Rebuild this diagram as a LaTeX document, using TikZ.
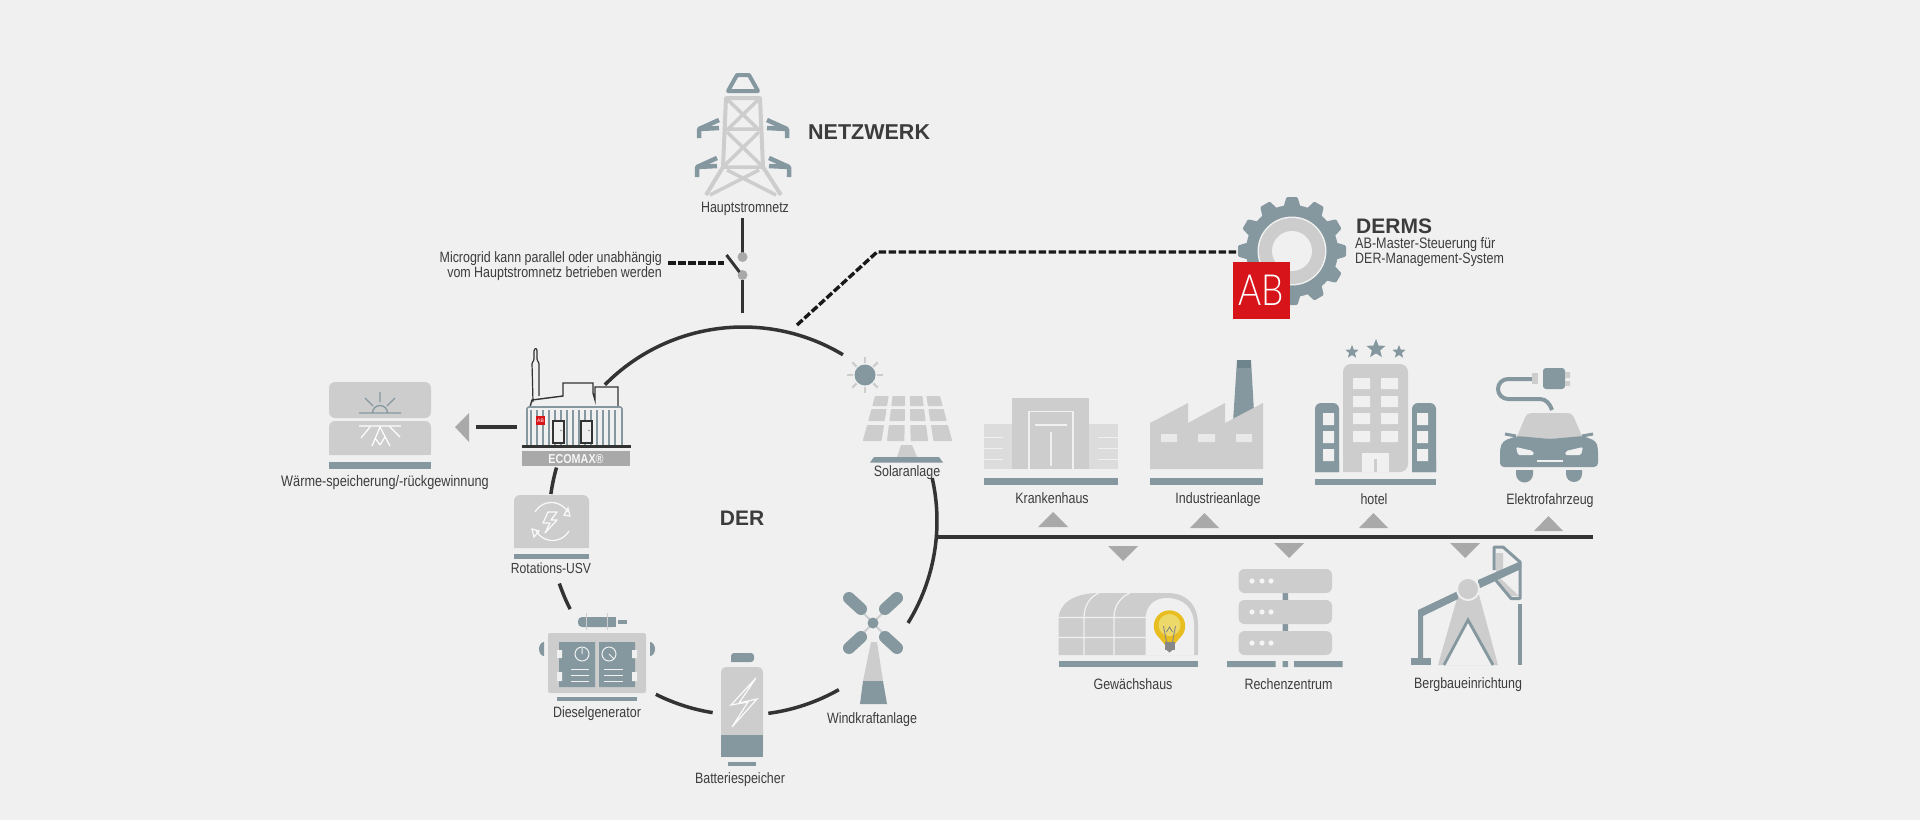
\documentclass[tikz,border=0pt]{standalone}
\usepackage{fontspec}
\usepackage{graphicx}
\usetikzlibrary{calc,shapes.geometric}
\newfontfamily\arialf{Liberation Sans}
\newfontfamily\narrowf[FakeStretch=0.83]{Liberation Sans}
\newfontfamily\thinf{Lato Light}
\definecolor{bgc}{HTML}{F0F0F0}
\definecolor{gr}{HTML}{CDCDCD}
\definecolor{grl}{HTML}{DCDCDC}
\definecolor{tl}{HTML}{85989F}
\definecolor{tld}{HTML}{6F858D}
\definecolor{dk}{HTML}{333333}
\definecolor{ar}{HTML}{A9A9A9}
\definecolor{txt}{HTML}{3C3C3C}
\definecolor{abred}{HTML}{D7141A}
\definecolor{bulba}{HTML}{E8BD1F}
\definecolor{bulbb}{HTML}{EDD96A}
\definecolor{win}{HTML}{E9E9E9}
\tikzset{
 lab/.style={font=\narrowf\fontsize{15}{15}\selectfont,text=txt,inner sep=0pt,align=center},
 head/.style={font=\arialf\bfseries\fontsize{21}{21}\selectfont,text=txt,inner sep=0pt},
 wire/.style={draw=dk,line width=3.5pt},
 dashwire/.style={draw=black!90,line width=3.4pt,dash pattern=on 7.5pt off 2.5pt},
 tri/.style={fill=ar},
 bar/.style={fill=tl},
 wl/.style={draw=bgc,line width=1.5pt},
 twr/.style={draw=gr,line width=4pt,line join=round},
 arm/.style={draw=tl,line width=4.5pt,line join=round},
 whiteln/.style={draw=white!90!gr,line width=1.2pt},
}
\begin{document}
\begin{tikzpicture}[x=1pt,y=1pt,yscale=-1]
\useasboundingbox (0,0) rectangle (1920,820);
\fill[bgc] (0,0) rectangle (1920,820);

% ---------- ring and feeders
\coordinate (c) at (743,521);
\newcommand\ringseg[3]{%
 \coordinate (#1) at ($(c)+(#2:194)$);
 \draw[wire] (#1) arc[start angle=#2,end angle=#3,radius=194];}
\ringseg{ra}{-135.4}{-59}
\ringseg{rb}{-12.8}{31.7}
\ringseg{rc}{-164}{-172}
\ringseg{rd}{-198.8}{-207}
\ringseg{re}{-243.3}{-261}
\ringseg{rf}{-277.5}{-299.6}
\coordinate (busa) at (937,537);
\coordinate (busb) at (1593,537);
\draw[draw=dk,line width=4pt] (busa) -- (busb);

% ---------- tower
\draw[arm,line width=4pt] (728,91)--(737,75)--(749,75)--(758,91)--cycle;
\draw[twr] (706,195)--(723,167)--(726,98)--(760,98)--(763,167)--(781,195);
\draw[twr,line width=3.5pt] (724,129)--(762,129) (723,167)--(763,167) (728,100)--(758,129) (758,100)--(728,129)
 (725,165)--(759,132) (761,165)--(727,132) (710,195)--(759,170) (776,195)--(727,170);
\foreach \s in {0,1}{
 \begin{scope}[shift={(743*2*\s,0)},xscale={1-2*\s}]
  \draw[arm] (719,120)--(699,129)--(719,128) (699,129)--(699,138);
  \draw[arm] (717,158)--(697,167)--(717,166) (697,167)--(697,177);
 \end{scope}}
\node[lab] (haupt) at (745,208.5) {Hauptstromnetz};
\node[head,font=\arialf\bfseries\fontsize{21.5}{21.5}\selectfont,anchor=west] (netz) at (808,132) {NETZWERK};

% ---------- switch
\coordinate (sa) at (742.5,218); \coordinate (sb) at (742.5,253);
\coordinate (sc) at (742.5,280); \coordinate (sd) at (742.5,313);
\draw[wire] (sa)--(sb) (sc)--(sd);
\fill[ar] (742.5,257) circle[radius=5] (742.5,275) circle[radius=5];
\coordinate (ba) at (726.5,255); \coordinate (bb) at (739.5,272);
\draw[wire,line width=3pt] (ba)--(bb);
\coordinate (da) at (668,263); \coordinate (db) at (723.5,263);
\draw[dashwire] (da)--(db);
\node[lab,align=right,anchor=east] (micro) at (662,266.5) {\baselineskip=14pt Microgrid kann parallel oder unabhängig\\vom Hauptstromnetz betrieben werden};

% ---------- DERMS
\coordinate (dga) at (797,325); \coordinate (dgb) at (877,252); \coordinate (dgc) at (1236,252);
\draw[dashwire] (dga)--(dgb)--(dgc);
\coordinate (gear) at (1292,251);
\foreach \a in {0,30,...,330}{
 \fill[tl,rounded corners=1.2pt,shift={(gear)},rotate=\a] (44,-8.5)--(54,-5.5)--(54,5.5)--(44,8.5)--cycle;}
\fill[tl] (gear) circle[radius=46];
\fill[bgc] (gear) circle[radius=34.5];
\fill[gr] (gear) circle[radius=33];
\fill[bgc] (gear) circle[radius=20];
\fill[abred] (1233,262) rectangle (1290,319);
\node[inner sep=0pt,text=white] (ablogo) at (1261,290) {\scalebox{.82}[1]{\fontsize{43}{43}\selectfont\thinf AB}};
\node[head,anchor=west] (derms) at (1356,226) {DERMS};
\node[lab,align=left,anchor=west] (dermst) at (1355,252.5) {\fontsize{15.2}{13}\selectfont AB-Master-Steuerung für\\DER-Management-System};
\node[head] (der) at (742,518) {DER};

% ---------- heat store
\fill[gr,rounded corners=6pt] (329,382) rectangle (431,418);
\fill[gr,rounded corners=6pt] (329,455)--(329,421)--(431,421)--(431,455)[sharp corners]--cycle;
\fill[gr] (329,445) rectangle (431,455);
\fill[bar] (329,462) rectangle (431,469);
\draw[tl,line width=1.3pt] (359,413)--(401,413) (372.5,413) arc[start angle=180,end angle=360,radius=7.5];
\draw[tl,line width=1.3pt] (380,402)--(380,392) (373,406)--(365,398) (387,406)--(395,398);
\draw[white,line width=1.2pt] (359,426)--(401,426) (370,427)--(361,438) (390,427)--(400,437)
 (380,427)--(372,446) (380,427)--(390,446) (375,438)--(380,445) (385,437)--(380,445);
\node[lab,font=\narrowf\fontsize{15.3}{15.3}\selectfont] (heat) at (385,483) {Wärme-speicherung/-rückgewinnung};
\fill[tri] (455,427)--(469,413)--(469,442)--cycle;
\coordinate (ha) at (476,427); \coordinate (hb) at (517,427);
\draw[wire] (ha)--(hb);

% ---------- ECOMAX
\draw[dk,line width=1.2pt,rounded corners=1pt,line join=round] (533,402)--(532,363)--(534,360)--(534,350)--(536,348)--(537,350)--(537,360)--(539,363)--(539,396);
\draw[dk,line width=1.4pt] (530,407)--(532,400)--(563,396)--(563,383)--(593,383)--(593,393)--(595,400)--(595,387)--(618,387)--(618,407);
\fill[bgc] (527,407) rectangle (622,445);
\foreach \x in {531,537,...,620}{\draw[tl,line width=1.2pt] (\x,410)--(\x,445);}
\draw[tl,line width=1.6pt,rounded corners=2pt] (527,445)--(527,407)--(622,407)--(622,445);
\foreach \x in {553,581}{\draw[dk,fill=bgc,line width=1.2pt] (\x,421) rectangle +(11,22);
 \draw[tl,line width=.8pt] (\x+7,430)--(\x+9,431);}
\fill[abred] (536,416) rectangle (545,425);
\node[inner sep=0pt,text=white,font=\arialf\fontsize{5}{5}\selectfont] (ablogob) at (540.5,420.5) {AB};
\draw[dk,line width=3pt] (522,446)--(631,446);
\fill[ar] (522,451) rectangle (630,466);
\node[inner sep=0pt,text=white!90!ar,font=\narrowf\bfseries\fontsize{13}{13}\selectfont] (ecomax) at (576,459) {ECOMAX®};

% ---------- USV
\fill[gr,rounded corners=6pt] (514,548)--(514,495)--(589,495)--(589,548)[sharp corners]--cycle;
\fill[gr] (514,538) rectangle (589,548);
\fill[bar] (514,554) rectangle (589,559);
\draw[whiteln] (535,512) arc[start angle=-150,end angle=-30,radius=19];
\draw[whiteln] (569,531) arc[start angle=30,end angle=150,radius=19];
\draw[whiteln] (568,508)--(570,516)--(564,515)--cycle (534,537)--(532,529)--(539,531)--cycle;
\draw[whiteln,line join=round] (548,512)--(543,523)--(550,523)--(545,533)--(557,520)--(551,520)--(557,512)--cycle;
\node[lab,font=\narrowf\fontsize{14.6}{14.6}\selectfont] (usv) at (551,568) {Rotations-USV};

% ---------- diesel
\fill[tl,rounded corners=4pt] (578,617) rectangle (616,627);
\fill[tl] (608,617) rectangle (616,627);
\fill[tl] (618,620) rectangle (627,624);
\draw[gr,line width=1pt] (586,613)--(586,630) (607,613)--(607,630);
\fill[gr,rounded corners=2pt] (548,633) rectangle (646,693);
\fill[tl] (559,642) rectangle (595,687) (599,642) rectangle (635,687);
\fill[tl] (544,642) arc[start angle=-90,end angle=-270,x radius=5,y radius=7] -- cycle;
\fill[tl] (650,642) arc[start angle=-90,end angle=90,x radius=5,y radius=7] -- cycle;
\fill[bgc] (557,650) rectangle (562,658) (557,672) rectangle (562,681) (632,650) rectangle (637,658) (632,672) rectangle (637,681);
\draw[bgc,line width=1pt] (582,654) circle[radius=7] (582,654)--(582,648) (609,654) circle[radius=7] (609,654)--(614,659);
\draw[bgc,line width=1pt] (571,669)--(589,669) (571,675)--(589,675) (571,681)--(589,681) (604,669)--(623,669) (604,675)--(623,675) (604,681)--(623,681);
\fill[bar] (557,697) rectangle (637,701);
\node[lab] (diesel) at (597,713.5) {Dieselgenerator};

% ---------- battery
\fill[tl,rounded corners=3pt] (731,662)--(731,653)--(754,653)--(754,662)[sharp corners]--cycle;
\fill[gr,rounded corners=5pt] (721,757)--(721,667)--(763,667)--(763,757)[sharp corners]--cycle;
\fill[tl] (721,735) rectangle (763,757);
\fill[bar] (728,762) rectangle (756,766);
\draw[whiteln,line join=miter] (756,678)--(731,705)--(748,702)--(732,727)--(757,699)--(739,703)--cycle;
\node[lab] (batt) at (740,779.5) {Batteriespeicher};

% ---------- wind
\draw[gr,line width=2pt] (849,598)--(897,648) (897,598)--(849,648);
\draw[tl,line width=12pt,line cap=round] (849,598)--(861,609) (897,598)--(885,609) (849,648)--(861,637) (897,648)--(885,637);
\fill[tl] (873,623) circle[radius=5.5];
\fill[gr] (871,642)--(877,642)--(883,681)--(863,681)--cycle;
\fill[tl] (863,681)--(883,681)--(887,704)--(860,704)--cycle;
\node[lab] (wind) at (872,719.5) {Windkraftanlage};

% ---------- solar
\foreach \a in {0,45,...,315}{\draw[gr,line width=2.4pt,shift={(865,375)},rotate=\a] (12,0)--(18,0);}
\fill[tl] (865,375) circle[radius=10.5];
\foreach \ya/\yb in {396/406,409/421,425/441}{
 \foreach \ua/\ub in {-1/-.58,-.46/-.07,.07/.46,.58/1}{
  \fill[gr,rounded corners=.6pt] ({907.5+(\ua)*(32.5+.273*(\yb-396))},\yb)--({907.5+(\ub)*(32.5+.273*(\yb-396))},\yb)--({907.5+(\ub)*(32.5+.273*(\ya-396))},\ya)--({907.5+(\ua)*(32.5+.273*(\ya-396))},\ya)--cycle;}}
\fill[gr] (901,445)--(912,445)--(917,457)--(897,457)--cycle;
\fill[tl] (874,457)--(939,457)--(943,462.5)--(870,462.5)--cycle;
\node[lab] (solar) at (907,472.5) {Solaranlage};

% ---------- hospital
\fill[grl] (984,424) rectangle (1118,469);
\fill[gr] (1012,398) rectangle (1089,469);
\draw[bgc,line width=1.5pt] (1029,469)--(1029,411.5)--(1073,411.5)--(1073,469) (1035,425)--(1067,425) (1051,432)--(1051,466);
\draw[bgc,line width=1pt] (984,437)--(1003,437) (984,448)--(1003,448) (984,459)--(1003,459) (1098,437)--(1118,437) (1098,448)--(1118,448) (1098,459)--(1118,459);
\fill[bar] (984,478) rectangle (1118,485);
\node[lab] (kh) at (1052,498) {Krankenhaus};
\fill[tri] (1038,527)--(1053,512)--(1068,527)--cycle;

% ---------- factory
\fill[tl] (1237,360)--(1251,360)--(1254,412)--(1233,422)--cycle;
\fill[tld] (1237,360) rectangle (1251,368);
\fill[gr] (1150,469)--(1150,423)--(1188,403)--(1188,423)--(1225,403)--(1225,423)--(1263,403)--(1263,469)--cycle;
\fill[win] (1161,434) rectangle (1177,442) (1198,434) rectangle (1215,442) (1236,434) rectangle (1252,442);
\fill[bar] (1150,478) rectangle (1263,485);
\node[lab] (ind) at (1218,500) {Industrieanlage};
\fill[tri] (1190,528)--(1204.5,513)--(1219,528)--cycle;

% ---------- hotel
\node[star,star points=5,star point ratio=2.3,fill=tl,minimum size=14pt,inner sep=0pt] (st1) at (1352,352) {};
\node[star,star points=5,star point ratio=2.3,fill=tl,minimum size=20pt,inner sep=0pt] (st2) at (1376,349) {};
\node[star,star points=5,star point ratio=2.3,fill=tl,minimum size=14pt,inner sep=0pt] (st3) at (1399,352) {};
\fill[gr,rounded corners=8pt] (1343,472)--(1343,364)--(1408,364)--(1408,472)[sharp corners]--cycle;
\foreach \y/\yy in {378/389,396/407,413/424,431/442}{\fill[bgc] (1353,\y) rectangle (1370,\yy) (1381,\y) rectangle (1398,\yy);}
\fill[bgc] (1362,453) rectangle (1389,472);
\fill[gr] (1374,459) rectangle (1377,472);
\fill[tl,rounded corners=6pt] (1315,472)--(1315,403)--(1339,403)[sharp corners]--(1339,472)--cycle;
\fill[tl,rounded corners=6pt] (1436,472)--(1436,403)--(1412,403)[sharp corners]--(1412,472)--cycle;
\fill[tl] (1315,460) rectangle (1339,472) (1412,460) rectangle (1436,472);
\foreach \y/\yy in {413/425,431/443,449/461}{\fill[bgc] (1323,\y) rectangle (1334,\yy) (1417,\y) rectangle (1428,\yy);}
\fill[bar] (1315,479) rectangle (1436,485);
\node[lab] (hotel) at (1374,499.5) {hotel};
\fill[tri] (1359,528)--(1373.5,513)--(1388,528)--cycle;

% ---------- car
\draw[tl,line width=4pt] (1532,379)--(1508,379) arc[start angle=-90,end angle=-270,radius=10] -- (1540,399) .. controls (1546,399) and (1550,404) .. (1552,410);
\fill[gr] (1532,373) rectangle (1538,384);
\fill[tl,rounded corners=3pt] (1543,368)--(1565,368)--(1565,389)--(1543,389)--cycle;
\fill[gr] (1565,372) rectangle (1570,378) (1565,381) rectangle (1570,386);
\fill[gr,rounded corners=4pt] (1515,441)--(1527,413)--(1572,413)--(1584,441)--cycle;
\fill[tl,rounded corners=4pt] (1500,467)--(1500,448)--(1503,441)--(1517,436)--(1550,439)--(1583,436)--(1596,441)--(1598,448)--(1598,467)--cycle;
\draw[tl,line width=3pt] (1505,434)--(1516,436) (1593,434)--(1582,436);
\fill[tl] (1516,470) rectangle (1533,474) (1566,470) rectangle (1582,474);
\fill[tl] (1533,474) arc[start angle=0,end angle=180,radius=8.5] -- cycle;
\fill[tl] (1582,474) arc[start angle=0,end angle=180,radius=8] -- cycle;
\fill[bgc,rounded corners=1.5pt] (1516,447)--(1533,451)--(1534,455)--(1518,455)--cycle;
\fill[bgc,rounded corners=1.5pt] (1583,447)--(1566,451)--(1565,455)--(1581,455)--cycle;
\draw[bgc,line width=1.2pt] (1537,461)--(1563,461);
\node[lab] (ev) at (1550,500.5) {Elektrofahrzeug};
\fill[tri] (1534,531)--(1548.5,516)--(1563,531)--cycle;

% ---------- greenhouse
\fill[tri] (1108,546)--(1138,546)--(1123,561)--cycle;
\fill[gr] (1058.5,655)--(1058.5,620) .. controls (1058.5,602) and (1076,593) .. (1099,593)--(1167,593) .. controls (1187,593) and (1198,605) .. (1198,625)--(1198,655)--cycle;
\fill[bgc] (1145.5,655)--(1145.5,620) .. controls (1145.5,606) and (1154,598) .. (1167,598) .. controls (1183,598) and (1194,608) .. (1194,625)--(1194,655)--cycle;
\draw[bgc,line width=1.3pt] (1084,655)--(1084,617) .. controls (1084,605) and (1091,596) .. (1099,593) (1114,655)--(1114,617) .. controls (1114,605) and (1122,596) .. (1130,593) (1058.5,617.5)--(1145.5,617.5) (1058.5,637.5)--(1145.5,637.5);
\fill[bulba] (1169.5,626) circle[radius=15.7];
\fill[bulba] (1157,635)--(1182,635)--(1174,645)--(1165,645)--cycle;
\fill[bulbb] (1169.5,625) circle[radius=11];
\draw[ar!80!black,line width=.9pt] (1163.5,626)--(1166.5,642) (1175.5,626)--(1172.5,642) (1166.5,632)--(1169.5,627)--(1172.5,632);
\fill[ar!80!black] (1164.5,642) rectangle (1174.5,650);
\fill[ar!80!black] (1166.5,650)--(1172.5,650)--(1169.5,652.5)--cycle;
\fill[bar] (1058.5,661) rectangle (1198,667);
\node[lab] (gh) at (1133,684.5) {Gewächshaus};

% ---------- data centre
\fill[tri] (1274,543)--(1304,543)--(1289,558)--cycle;
\fill[tl] (1282.5,593) rectangle (1288,600) (1282.5,624) rectangle (1288,631);
\foreach \y in {569,600,631}{
 \fill[gr,rounded corners=6pt] (1238.5,\y) rectangle (1332,\y+24);
 \foreach \x in {1252,1262,1271}{\fill[bgc!70!white] (\x,\y+12) circle[radius=2.6];}}
\fill[bar] (1227,661) rectangle (1275.5,667) (1282.5,661) rectangle (1288,667) (1294,661) rectangle (1342.5,667);
\node[lab] (rz) at (1288.5,684.5) {Rechenzentrum};

% ---------- pump
\fill[tri] (1450,543)--(1480,543)--(1465,558)--cycle;
\fill[gr] (1458,595)--(1479,595)--(1498,665)--(1438,665)--cycle;
\fill[bgc] (1468,622)--(1492,665)--(1445,665)--cycle;
\draw[tl,line width=2.8pt] (1444,665)--(1468,620)--(1493,665);
\fill[gr] (1496,553)--(1503,553)--(1503,578)--(1496,575)--cycle;
\fill[gr] (1499,577)--(1519,596)--(1509,596)--(1498,585)--cycle;
\draw[tl,line width=3pt,line join=round] (1494,570)--(1494,547)--(1503,547)--(1520,562)--(1520,598.5)--(1511,598.5)--(1494,578);
\fill[tl] (1478,580)--(1521,561)--(1521,569)--(1478,589)--cycle;
\fill[tl] (1418,610)--(1458,591)--(1458,599)--(1423,616)--(1423,658)--(1418,658)--cycle;
\fill[bgc] (1468,589) circle[radius=12];
\fill[gr] (1468,589) circle[radius=10];
\fill[tl] (1411,658) rectangle (1430.5,665);
\draw[tl,line width=3.5pt] (1520,604)--(1520,665);
\node[lab] (mine) at (1468,685) {Bergbaueinrichtung};
\end{tikzpicture}
\end{document}
